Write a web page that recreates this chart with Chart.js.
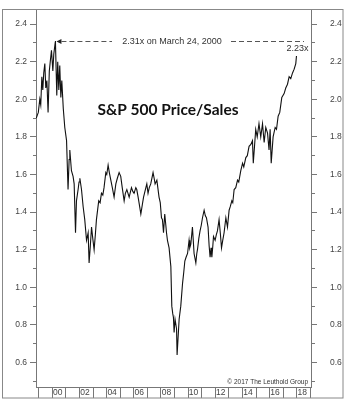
<!DOCTYPE html>
<html>
<head>
<meta charset="utf-8">
<script src="https://cdn.jsdelivr.net/npm/chart.js@4.4.1/dist/chart.umd.min.js"></script>
<style>
  body { margin: 0; background: #fff; }
</style>
</head>
<body>
<canvas id="psChart" width="350" height="412"></canvas>
<script>
// S&P 500 price/sales ratio (decimal years)
const dates = [
  1998.82, 1998.97, 1999.08, 1999.15, 1999.23, 1999.30, 1999.37, 1999.45, 1999.52, 1999.60,
  1999.69, 1999.78, 1999.85, 1999.94, 2000.04, 2000.11, 2000.23, 2000.33, 2000.40, 2000.48,
  2000.55, 2000.63, 2000.70, 2000.81, 2000.92, 2001.05, 2001.16, 2001.24, 2001.29, 2001.41,
  2001.53, 2001.61, 2001.71, 2001.78, 2001.90, 2001.97, 2002.03, 2002.15, 2002.27, 2002.39,
  2002.52, 2002.64, 2002.71, 2002.80, 2002.89, 2002.98, 2003.08, 2003.17, 2003.25, 2003.35,
  2003.42, 2003.52, 2003.62, 2003.72, 2003.81, 2003.94, 2004.01, 2004.11, 2004.20, 2004.31,
  2004.42, 2004.55, 2004.68, 2004.79, 2004.92, 2005.04, 2005.15, 2005.29, 2005.38, 2005.49,
  2005.66, 2005.83, 2005.93, 2006.02, 2006.15, 2006.22, 2006.32, 2006.41, 2006.52, 2006.63,
  2006.72, 2006.89, 2006.96, 2007.05, 2007.14, 2007.25, 2007.42, 2007.50, 2007.57, 2007.70,
  2007.77, 2007.86, 2007.95, 2008.04, 2008.11, 2008.19, 2008.28, 2008.36, 2008.41, 2008.48,
  2008.60, 2008.73, 2008.80, 2008.87, 2008.92, 2008.97, 2009.04, 2009.15, 2009.19, 2009.34,
  2009.46, 2009.59, 2009.68, 2009.76, 2009.85, 2009.96, 2010.07, 2010.12, 2010.20, 2010.32,
  2010.44, 2010.57, 2010.64, 2010.69, 2010.79, 2010.88, 2010.97, 2011.06, 2011.18, 2011.27,
  2011.35, 2011.47, 2011.55, 2011.62, 2011.69, 2011.75, 2011.82, 2011.87, 2011.99, 2012.08,
  2012.16, 2012.28, 2012.37, 2012.46, 2012.55, 2012.65, 2012.78, 2012.90, 2013.02, 2013.11,
  2013.22, 2013.29, 2013.39, 2013.51, 2013.64, 2013.73, 2013.88, 2014.01, 2014.10, 2014.25,
  2014.36, 2014.49, 2014.62, 2014.74, 2014.80, 2014.98, 2015.09, 2015.22, 2015.35, 2015.48,
  2015.60, 2015.72, 2015.85, 2015.96, 2016.04, 2016.12, 2016.26, 2016.41, 2016.51, 2016.63,
  2016.75, 2016.90, 2017.07, 2017.19, 2017.32, 2017.44, 2017.56, 2017.69, 2017.81, 2017.93,
  2017.98
];
const priceToSales = [
  1.90, 1.93, 2.00, 1.97, 2.12, 2.05, 2.14, 2.19, 2.06, 2.10,
  1.93, 2.15, 2.20, 2.26, 2.15, 2.24, 2.31, 2.02, 2.20, 2.05,
  2.18, 2.01, 2.10, 1.95, 1.85, 1.78, 1.52, 1.68, 1.73, 1.62,
  1.59, 1.55, 1.29, 1.46, 1.52, 1.56, 1.58, 1.52, 1.43, 1.36,
  1.25, 1.29, 1.13, 1.22, 1.32, 1.26, 1.20, 1.28, 1.36, 1.42,
  1.46, 1.45, 1.50, 1.49, 1.53, 1.61, 1.60, 1.65, 1.61, 1.57,
  1.53, 1.48, 1.55, 1.58, 1.61, 1.59, 1.53, 1.46, 1.50, 1.52,
  1.48, 1.53, 1.51, 1.50, 1.53, 1.52, 1.48, 1.44, 1.39, 1.44,
  1.48, 1.53, 1.55, 1.50, 1.53, 1.55, 1.61, 1.58, 1.55, 1.57,
  1.53, 1.48, 1.45, 1.37, 1.36, 1.29, 1.39, 1.33, 1.29, 1.25,
  1.21, 1.11, 0.90, 0.86, 0.84, 0.76, 0.83, 0.78, 0.64, 0.83,
  0.90, 1.02, 1.08, 1.14, 1.16, 1.18, 1.25, 1.21, 1.23, 1.32,
  1.18, 1.13, 1.18, 1.20, 1.26, 1.30, 1.33, 1.37, 1.41, 1.38,
  1.37, 1.32, 1.22, 1.16, 1.21, 1.16, 1.22, 1.27, 1.25, 1.28,
  1.30, 1.36, 1.29, 1.21, 1.25, 1.29, 1.37, 1.32, 1.41, 1.43,
  1.46, 1.45, 1.52, 1.53, 1.57, 1.56, 1.62, 1.66, 1.64, 1.69,
  1.70, 1.75, 1.76, 1.78, 1.66, 1.84, 1.80, 1.87, 1.80, 1.87,
  1.77, 1.85, 1.82, 1.73, 1.84, 1.66, 1.80, 1.85, 1.84, 1.91,
  1.93, 2.01, 2.03, 2.06, 2.08, 2.12, 2.11, 2.14, 2.16, 2.19,
  2.23
];

// axis ticks
const xTickYears = [1999, 2000, 2001, 2002, 2003, 2004, 2005, 2006, 2007, 2008, 2009,
  2010, 2011, 2012, 2013, 2014, 2015, 2016, 2017, 2018, 2019];
const xTickLabels = ['', '00', '', '02', '', '04', '', '06', '', '08', '',
  '10', '', '12', '', '14', '', '16', '', '18', ''];
const yTickValues = [0.5, 0.6, 0.7, 0.8, 0.9, 1.0, 1.1, 1.2, 1.3, 1.4, 1.5, 1.6, 1.7, 1.8,
  1.9, 2.0, 2.1, 2.2, 2.3, 2.4];
const yTickLabels = ['', '0.6', '', '0.8', '', '1.0', '', '1.2', '', '1.4', '', '1.6', '',
  '1.8', '', '2.0', '', '2.2', '', '2.4'];

const peakDate = 2000.23;
const peakValue = 2.31;
const peakText = '2.31x on March 24, 2000';
const lastText = '2.23x';

const axisGrey = '#777';
const labelGrey = '#444';
const tickFont = { family: 'Liberation Sans, Arial, sans-serif', size: 8.5 };

function yAxis(position, pad) {
  return {
    type: 'linear',
    position: position,
    min: 0.47,
    max: 2.48,
    afterBuildTicks: scale => { scale.ticks = yTickValues.map(v => ({ value: v })); },
    afterFit: scale => {
      scale.width = position === 'left' ? 36 : 39;
      scale.paddingTop = 0;
      scale.paddingBottom = 0;
    },
    border: { display: true, color: axisGrey, width: 1 },
    grid: {
      drawOnChartArea: false,
      drawTicks: true,
      tickLength: 6,
      tickColor: axisGrey,
      // minor ticks: only the half next to the axis
      tickBorderDash: ctx => {
        const major = yTickLabels[ctx.index] !== '';
        if (major) return [];
        return position === 'left' ? [0, 3, 3, 100] : [3, 100];
      }
    },
    ticks: {
      autoSkip: false,
      padding: pad,
      color: labelGrey,
      font: tickFont,
      callback: (v, i) => yTickLabels[i]
    }
  };
}

// frame and notes on top of the chart
const notesPlugin = {
  id: 'notes',
  afterDraw(chart) {
    const { ctx, scales } = chart;
    const x = scales.x, y = scales.y;
    ctx.save();

    // outer frame
    ctx.strokeStyle = '#888';
    ctx.lineWidth = 1;
    ctx.strokeRect(2.5, 9.5, 340.5, 388.5);

    // peak note with arrow and dashed leader
    const px = x.getPixelForValue(peakDate);
    const py = Math.round(y.getPixelForValue(peakValue)) + 0.5;
    ctx.fillStyle = '#222';
    ctx.beginPath();
    ctx.moveTo(px + 1, py);
    ctx.lineTo(px + 6, py - 2.5);
    ctx.lineTo(px + 6, py + 2.5);
    ctx.closePath();
    ctx.fill();

    ctx.strokeStyle = '#555';
    ctx.setLineDash([5, 3]);
    ctx.beginPath();
    ctx.moveTo(px + 6, py);
    ctx.lineTo(112, py);
    ctx.moveTo(231, py);
    ctx.lineTo(304, py);
    ctx.stroke();
    ctx.setLineDash([]);

    ctx.font = '9px Liberation Sans, Arial, sans-serif';
    ctx.fillStyle = '#333';
    ctx.textBaseline = 'middle';
    ctx.textAlign = 'center';
    ctx.fillText(peakText, 172, py);

    // last value
    const lx = x.getPixelForValue(dates[dates.length - 1]);
    ctx.fillText(lastText, lx + 1, 49);

    // title
    ctx.font = 'bold 15.5px Lato, sans-serif';
    ctx.fillStyle = '#111';
    ctx.fillText('S&P 500 Price/Sales', 168, 110);

    // source
    ctx.font = '6.5px Liberation Sans, Arial, sans-serif';
    ctx.textAlign = 'right';
    ctx.fillStyle = '#333';
    ctx.fillText('\u00a9 2017 The Leuthold Group', 308, 382);

    ctx.restore();
  }
};

new Chart(document.getElementById('psChart').getContext('2d'), {
  type: 'line',
  data: {
    datasets: [{
      data: dates.map((d, i) => ({ x: d, y: priceToSales[i] })),
      borderColor: '#111',
      borderWidth: 1.1,
      pointRadius: 0,
      tension: 0,
      fill: false,
      yAxisID: 'y'
    }]
  },
  options: {
    responsive: false,
    animation: false,
    layout: { padding: { top: 9, bottom: 14, left: 0, right: 0 } },
    plugins: {
      legend: { display: false },
      tooltip: { enabled: false }
    },
    scales: {
      x: {
        type: 'linear',
        min: 1998.8,
        max: 2019.05,
        afterBuildTicks: scale => { scale.ticks = xTickYears.map(v => ({ value: v })); },
        afterFit: scale => {
          scale.height = 11;
          scale.paddingLeft = 0;
          scale.paddingRight = 0;
        },
        border: { display: true, color: axisGrey, width: 1 },
        grid: {
          drawOnChartArea: false,
          drawTicks: true,
          tickLength: 11,
          tickColor: axisGrey
        },
        ticks: {
          autoSkip: false,
          maxRotation: 0,
          padding: -10,
          labelOffset: 5.5,
          color: labelGrey,
          font: tickFont,
          callback: (v, i) => xTickLabels[i]
        }
      },
      y: yAxis('left', 3),
      y2: yAxis('right', 13)
    }
  },
  plugins: [notesPlugin]
});
</script>
</body>
</html>
